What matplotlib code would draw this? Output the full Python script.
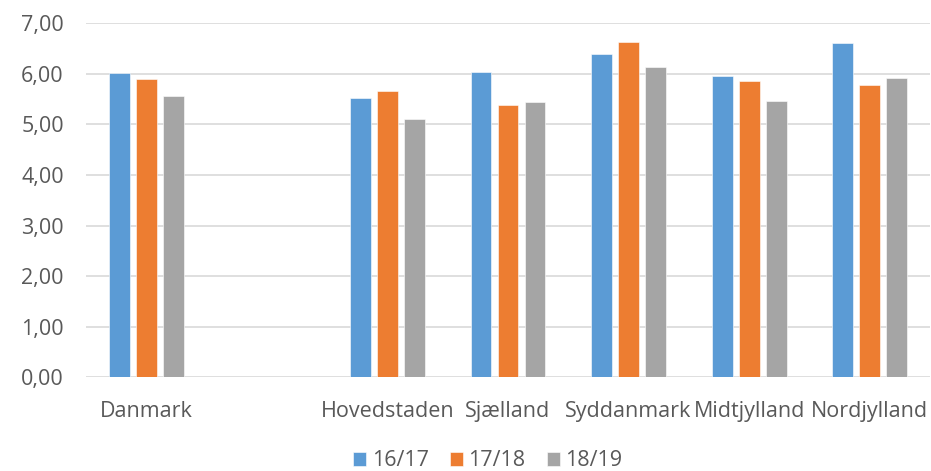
import matplotlib.pyplot as plt
import numpy as np

# --- data ---
regions = ['Danmark', '', 'Hovedstaden', 'Sjælland', 'Syddanmark', 'Midtjylland', 'Nordjylland']
series = ['16/17', '17/18', '18/19']
v1617 = [6.01, np.nan, 5.52, 6.04, 6.39, 5.96, 6.62]
v1718 = [5.89, np.nan, 5.66, 5.38, 6.64, 5.86, 5.78]
v1819 = [5.56, np.nan, 5.11, 5.44, 6.14, 5.47, 5.92]
colors = ['#5B9BD5', '#ED7D31', '#A5A5A5']

plt.rcParams['font.family'] = ['Open Sans', 'DejaVu Sans']

fig = plt.figure(figsize=(9.31, 4.71), dpi=100)
ax = fig.add_axes([86 / 931, 1 - 377.3 / 471, 844 / 931, 354 / 471])

x = np.arange(len(regions))
width = 0.174
step = 0.224
for i, (vals, lab, c) in enumerate(zip([v1617, v1718, v1819], series, colors)):
    ax.bar(x + (i - 1) * step, vals, width, color=c, label=lab,
           edgecolor='white', linewidth=0.4, zorder=3)

ax.set_xlim(-0.5, len(regions) - 0.5)
ax.set_ylim(0, 7)
ax.set_yticks(np.arange(0, 8, 1))
ax.set_yticklabels([f'{v:.2f}'.replace('.', ',') for v in range(8)])
ax.set_xticks(x)
ax.set_xticklabels(regions)

ax.grid(axis='y', color='#D9D9D9', linewidth=1.2, zorder=0)
for s in ax.spines.values():
    s.set_visible(False)
ax.tick_params(axis='both', length=0, labelsize=15.5, colors='#595959')
ax.tick_params(axis='y', pad=16)
ax.tick_params(axis='x', pad=17)

fig.legend(loc='center', bbox_to_anchor=(488 / 931, 1 - 461 / 471), ncol=3,
           frameon=False, fontsize=15.5, labelcolor='#595959',
           handlelength=0.6, handleheight=0.6, handletextpad=0.25, columnspacing=1.0)

fig.savefig('out.png', dpi=100)
